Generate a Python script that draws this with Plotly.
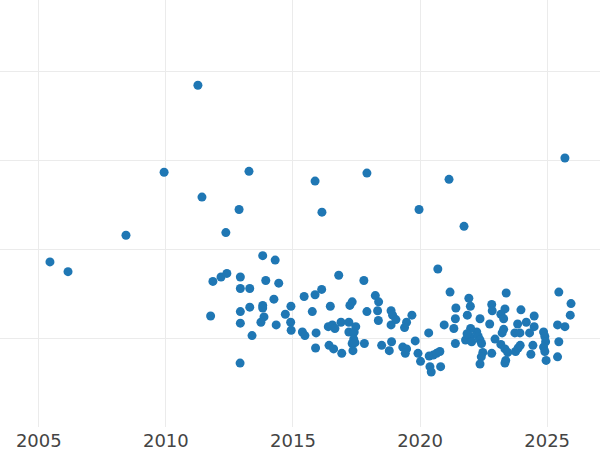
import plotly.graph_objects as go

# year (decimal) and value
years = [
    2005.44, 2006.15, 2008.43, 2009.93, 2011.26, 2011.42, 2012.36, 2012.88, 2013.27, 2012.92,
    2015.87, 2016.14, 2017.91, 2019.96, 2021.14, 2021.73, 2025.70, 2020.70,
    2013.81, 2014.30, 2011.85, 2012.17, 2012.40, 2012.93, 2012.93, 2013.30, 2013.93, 2014.44,
    2014.25, 2013.81, 2013.81, 2013.30, 2012.93, 2011.76, 2014.92, 2014.70, 2013.86, 2013.74,
    2012.93, 2014.34, 2014.91, 2014.93, 2013.39,
    2016.80, 2017.79, 2015.44, 2015.87, 2016.13, 2016.47, 2015.76, 2017.24, 2017.33, 2018.24,
    2018.37, 2017.91, 2018.33, 2018.86, 2018.36, 2018.86, 2015.37, 2015.47, 2015.91, 2016.39,
    2016.55, 2016.65, 2016.89, 2017.20, 2017.47, 2017.20, 2017.41, 2017.39, 2017.33, 2017.44,
    2017.81, 2015.89, 2016.42, 2016.60, 2016.92, 2017.36, 2018.49, 2018.79, 2018.88,
    2018.92, 2019.05, 2019.68, 2019.47, 2019.39, 2020.34, 2020.95, 2019.32, 2019.47, 2019.42,
    2019.81, 2019.92, 2020.02, 2020.36, 2020.52, 2020.65, 2020.78, 2020.39, 2020.44, 2020.81,
    2021.18, 2021.92, 2021.98, 2021.41, 2021.39, 2021.33, 2021.86, 2022.36, 2021.39, 2022.47,
    2022.41, 2022.36, 2021.79, 2021.96, 2022.03, 2022.23, 2022.29, 2022.36, 2022.42, 2021.99,
    2021.85,
    2022.82, 2022.84, 2023.39, 2023.97, 2023.34, 2023.18, 2023.29, 2022.74, 2023.84, 2024.18,
    2024.49, 2024.49, 2023.29, 2023.23, 2023.73, 2023.93, 2024.31, 2022.95, 2023.18, 2023.34,
    2023.45, 2023.37, 2023.34, 2023.76, 2023.86, 2023.94, 2024.44, 2024.36, 2024.86, 2024.91,
    2024.94, 2024.86, 2024.91, 2024.96, 2022.82, 2025.46, 2025.94, 2025.91, 2025.41, 2025.70,
    2025.46, 2025.41,
]
values = [
    18.6, 17.5, 21.6, 28.7, 38.5, 25.9, 21.9, 24.5, 28.8, 7.2,
    27.7, 24.2, 28.6, 24.5, 27.9, 22.6, 30.3, 17.8,
    19.3, 18.8, 16.4, 16.9, 17.3, 16.9, 15.6, 15.6, 16.5, 16.2,
    14.4, 13.7, 13.4, 13.5, 13.0, 12.5, 13.6, 12.7, 12.4, 11.8,
    11.7, 11.5, 11.8, 10.9, 10.3,
    17.1, 16.5, 14.7, 14.9, 15.5, 13.6, 13.0, 13.7, 14.1, 14.8,
    14.1, 13.0, 13.1, 13.1, 12.0, 11.5, 10.7, 10.3, 10.6, 11.3,
    11.5, 11.1, 11.8, 11.8, 11.3, 10.7, 10.7, 9.9, 9.4, 9.5,
    9.4, 8.9, 9.2, 8.8, 8.3, 8.6, 9.2, 8.6, 9.6,
    12.6, 12.1, 12.6, 11.8, 11.2, 10.6, 11.5, 9.0, 8.8, 8.3,
    9.7, 8.3, 7.4, 8.0, 8.1, 8.3, 8.5, 6.8, 6.2, 6.8,
    15.2, 14.5, 13.6, 13.4, 12.2, 11.1, 12.6, 12.2, 9.4, 8.4,
    7.9, 7.1, 9.8, 10.2, 9.6, 10.7, 10.2, 9.8, 9.4, 11.1,
    10.5,
    13.8, 13.1, 15.1, 13.2, 13.3, 12.7, 12.2, 11.6, 11.6, 11.8,
    12.5, 11.3, 11.0, 10.6, 10.6, 10.6, 10.6, 9.9, 9.3, 8.8,
    8.4, 7.5, 7.2, 8.5, 8.9, 9.2, 9.2, 8.2, 10.7, 10.2,
    9.6, 9.0, 8.5, 7.5, 8.3, 15.2, 13.9, 12.6, 11.5, 11.3,
    9.6, 7.9,
]

x_ticks = [2005, 2010, 2015, 2020, 2025]

fig = go.Figure(
    go.Scatter(
        x=years,
        y=values,
        mode="markers",
        marker=dict(color="#1f77b4", size=9),
        hoverinfo="x+y",
    )
)

fig.update_layout(
    width=600,
    height=450,
    paper_bgcolor="white",
    plot_bgcolor="white",
    margin=dict(l=0, r=0, t=0, b=23),
    showlegend=False,
    font=dict(family="DejaVu Sans", color="#444"),
)

fig.update_xaxes(
    range=[2003.474, 2027.08],
    tickvals=x_ticks,
    ticktext=[str(t) for t in x_ticks],
    showgrid=True,
    gridcolor="#ebebeb",
    zeroline=False,
    showline=False,
    ticks="",
    ticklabelstandoff=1,
    tickfont=dict(size=18, color="#444"),
    automargin=False,
)
fig.update_yaxes(
    range=[0, 48.1],
    dtick=10,
    showgrid=True,
    gridcolor="#ebebeb",
    zeroline=False,
    showline=False,
    showticklabels=False,
    automargin=False,
)

# drop the page's default body margin so the figure sits at the window corner
fig.write_html(
    "out.html",
    config={"displayModeBar": False},
    post_script="document.body.style.margin='0';",
)
